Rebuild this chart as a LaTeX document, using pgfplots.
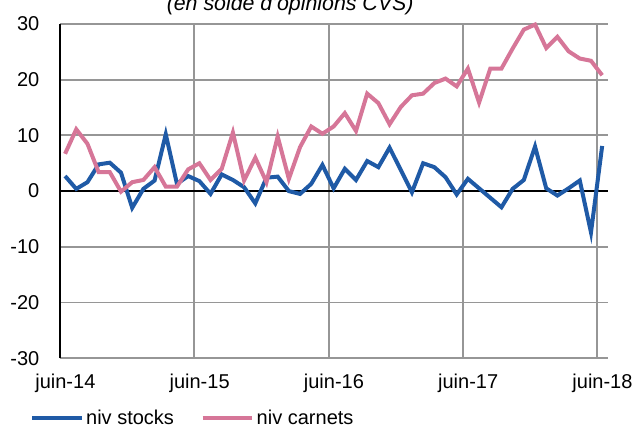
\documentclass[border=0pt]{standalone}
\usepackage{fontspec}
\setmainfont{Liberation Sans}
\usepackage{pgfplots}
\usepackage{pgfplotstable}
\pgfplotsset{compat=1.18}
\definecolor{stockblue}{RGB}{31,90,166}
\definecolor{carnetpink}{RGB}{214,118,152}
\definecolor{gridgray}{RGB}{150,150,150}

% months since juin-14
\pgfplotstableread{
m stocks carnets
0 2.7 6.7
1 0.4 11.1
2 1.6 8.5
3 4.8 3.4
4 5.1 3.4
5 3.3 -0.1
6 -3.0 1.6
7 0.4 2.0
8 1.9 4.3
9 10.2 0.8
10 1.3 0.8
11 2.7 3.9
12 1.8 5.0
13 -0.5 2.0
14 3.0 4.0
15 2.0 10.5
16 0.7 1.9
17 -2.2 6.0
18 2.4 1.6
19 2.6 9.8
20 0.0 2.2
21 -0.5 7.9
22 1.3 11.6
23 4.7 10.3
24 0.5 11.6
25 4.0 14.0
26 2.0 10.8
27 5.4 17.5
28 4.3 15.8
29 7.8 12.0
30 3.8 15.1
31 -0.2 17.2
32 5.0 17.5
33 4.3 19.4
34 2.5 20.2
35 -0.6 18.8
36 2.2 22.0
37 0.5 15.9
38 -1.2 22.0
39 -2.9 22.0
40 0.4 25.6
41 2.0 29.0
42 8.0 29.9
43 0.5 25.7
44 -0.8 27.7
45 0.5 25.1
46 1.9 23.8
47 -7.4 23.4
48 8.1 20.8
}\niv

\begin{document}
\begin{tikzpicture}
\begin{axis}[
    name=ax,
    scale only axis,
    width=411pt, height=250.5pt,
    xmin=0, xmax=49,
    ymin=-30, ymax=30,
    xtick={0,12,24,36,48},
    xticklabels={juin-14,juin-15,juin-16,juin-17,juin-18},
    ytick={-30,-20,...,30},
    /pgf/number format/assume math mode=true,
    tick label style={font=\fontsize{15}{17}\selectfont},
    xticklabel style={xshift=4pt, yshift=-8pt},
    yticklabel style={xshift=-12pt},
    major tick length=0pt,
    xmajorgrids=true, ymajorgrids=true,
    grid style={gridgray, line width=1.4pt},
    axis line style={draw=none},
    legend style={draw=none, fill=none, at={(-0.055,-0.18)}, anchor=west,
        legend columns=2, font=\fontsize{15}{17}\selectfont,
        /tikz/every even column/.append style={column sep=18pt},
        inner sep=0pt},
    legend image code/.code={\draw[#1] (0pt,0pt) -- (37pt,0pt);},
    clip=false,
]
\draw[black, line width=1.4pt] (axis cs:0,0) -- (axis cs:49,0);
\draw[black, line width=1.4pt] (axis cs:0,-30) -- (axis cs:0,30);
\addplot[stockblue, line width=3pt] table[x expr=\thisrow{m}+0.45, y=stocks] {\niv};
\addlegendentry{niv stocks}
\addplot[carnetpink, line width=3pt] table[x expr=\thisrow{m}+0.45, y=carnets] {\niv};
\addlegendentry{niv carnets}
\end{axis}
\node[anchor=base, font=\itshape\fontsize{16}{18}\selectfont]
    at ([xshift=-33pt, yshift=10.5pt]ax.north) {(en solde d'opinions CVS)};
\pgfresetboundingbox
\useasboundingbox ([xshift=-45pt, yshift=-53pt]ax.south west)
    rectangle ([xshift=20pt, yshift=18pt]ax.north east);
\end{tikzpicture}
\end{document}
